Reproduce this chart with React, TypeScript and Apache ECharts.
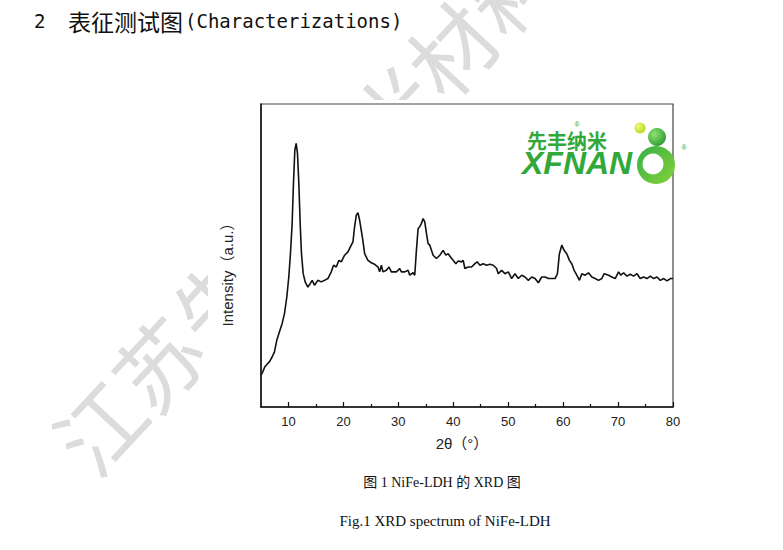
import React, { useEffect, useRef } from "react";
import * as echarts from "echarts";

// 2θ (degrees) and intensity (a.u., 0–100 scale)
const twoTheta = [
  5.0, 5.32, 5.68, 6.11, 6.53, 7.02, 7.45, 7.87, 8.36, 8.84, 9.27, 9.7, 10.06, 10.36, 10.67, 10.91, 11.16, 11.4,
  11.64, 11.89, 12.13, 12.37, 12.68, 13.04, 13.53, 13.95, 14.32, 14.74, 15.35, 15.96, 16.57, 17.18, 17.78, 18.21,
  18.7, 19.18, 19.61, 20.22, 20.83, 21.43, 21.74, 22.04, 22.35, 22.65, 22.95, 23.44, 23.87, 24.47, 25.08, 25.69,
  26.3, 26.6, 26.91, 27.21, 27.82, 28.31, 28.73, 29.64, 30.25, 30.56, 31.17, 31.77, 32.08, 32.69, 32.99, 33.29,
  33.6, 33.9, 34.21, 34.51, 34.81, 35.12, 35.42, 35.73, 36.33, 36.94, 37.55, 38.16, 38.65, 39.07, 39.5, 39.98,
  40.47, 40.9, 41.5, 41.81, 42.11, 42.72, 43.33, 43.94, 44.36, 44.85, 45.46, 46.07, 46.67, 47.28, 47.89, 48.19,
  48.8, 49.41, 50.02, 50.63, 51.24, 51.84, 52.45, 53.06, 53.67, 54.28, 54.89, 55.49, 56.1, 56.71, 57.32, 57.93,
  58.53, 58.96, 59.32, 59.75, 60.18, 60.66, 61.15, 61.57, 62.0, 62.49, 62.97, 63.4, 64.01, 64.61, 65.22, 65.83,
  66.44, 67.05, 67.47, 68.26, 68.87, 69.48, 70.09, 70.51, 71.0, 71.61, 72.22, 72.83, 73.43, 74.04, 74.65, 75.26,
  75.87, 76.48, 77.09, 77.69, 78.3, 78.91, 79.52, 80.0,
];
const intensity = [
  10.5, 11.6, 13.2, 14.1, 14.9, 16.5, 18.2, 22.0, 24.8, 27.5, 30.8, 36.3, 42.9, 50.6, 60.6, 73.8, 84.8, 87.0,
  83.7, 73.8, 60.6, 50.6, 44.0, 41.3, 39.6, 40.7, 41.8, 40.2, 41.8, 41.3, 41.8, 42.4, 44.6, 46.8,
  46.2, 48.4, 47.9, 50.1, 51.2, 53.4, 54.5, 59.5, 63.3, 64.1, 61.7, 56.2, 50.6, 48.4, 47.6, 47.1,
  46.2, 44.6, 46.8, 44.6, 45.1, 46.2, 44.6, 44.6, 45.7, 44.6, 44.6, 45.1, 43.5, 44.3, 43.5, 51.7,
  58.9, 59.5, 60.6, 62.2, 61.1, 57.3, 53.9, 53.4, 50.1, 49.0, 50.1, 51.7, 50.1, 50.6, 49.5, 48.4,
  47.3, 48.2, 47.9, 48.4, 45.7, 46.2, 46.2, 47.3, 47.9, 46.8, 47.3, 46.8, 47.1, 46.8, 45.7, 44.0,
  45.1, 44.0, 44.6, 42.4, 44.0, 42.4, 43.5, 42.9, 41.8, 42.9, 42.4, 41.0, 42.9, 42.9, 42.4, 42.4,
  42.4, 44.0, 50.6, 53.4, 51.7, 50.6, 48.4, 47.3, 45.1, 43.5, 41.8, 44.0, 43.5, 44.3, 42.9, 42.4,
  41.8, 42.4, 44.0, 43.5, 42.9, 42.4, 44.6, 43.5, 44.3, 43.2, 43.8, 43.2, 44.0, 42.4, 42.9, 42.4,
  43.2, 42.4, 42.9, 41.8, 42.4, 41.6, 42.4, 42.4,
];
const majorTicks = [10, 20, 30, 40, 50, 60, 70, 80];
const minorTicks = [15, 25, 35, 45, 55, 65, 75];

const titleNum = "2";
const titleCn = "表征测试图";
const titleEn = "(Characterizations)";
const xName = "2θ（°）";
const yName = "Intensity（a.u.）";
const captionCn = "图 1 NiFe-LDH 的 XRD 图";
const captionEn = "Fig.1 XRD spectrum of NiFe-LDH";
const watermark = "江苏先丰纳米材料";

export default function App() {
  const ref = useRef<HTMLDivElement>(null);
  useEffect(() => {
    if (!ref.current) return;
    const chart = echarts.init(ref.current, null, { renderer: "svg" });
    const green = "#33a83a";
    const wmAngle = (47 * Math.PI) / 180;
    chart.setOption({
      animation: false,
      backgroundColor: "#ffffff",
      grid: {
        left: 261,
        top: 104,
        width: 412,
        height: 303,
        show: true,
        borderColor: "#444",
        borderWidth: 1.2,
        backgroundColor: "transparent",
      },
      xAxis: [
        {
          type: "value",
          position: "bottom",
          min: 5,
          max: 80,
          axisLine: { show: true, onZero: false, lineStyle: { color: "#111", width: 1.5 } },
          axisTick: { show: true, inside: true, length: 5, customValues: majorTicks, lineStyle: { color: "#111", width: 1.2 } },
          axisLabel: {
            show: true,
            customValues: majorTicks,
            color: "#222",
            fontSize: 13,
            margin: 8,
            fontFamily: "Liberation Sans, Arial, sans-serif",
          },
          splitLine: { show: false },
        },
        {
          type: "value",
          position: "bottom",
          min: 5,
          max: 80,
          axisLine: { show: false },
          axisTick: { show: true, inside: true, length: 3, customValues: minorTicks, lineStyle: { color: "#111", width: 1.2 } },
          axisLabel: { show: false },
          splitLine: { show: false },
        },
      ],
      yAxis: {
        type: "value",
        min: 0,
        max: 100,
        axisLine: { show: true, onZero: false, lineStyle: { color: "#111", width: 1.5 } },
        axisTick: { show: false },
        axisLabel: { show: false },
        splitLine: { show: false },
      },
      series: [
        {
          type: "line",
          xAxisIndex: 0,
          data: twoTheta.map((t, i) => [t, intensity[i]]),
          showSymbol: false,
          symbol: "none",
          lineStyle: { color: "#111", width: 1.6 },
          z: 5,
        },
      ],
      graphic: [
        {
          type: "text",
          z: -10,
          x: 68,
          y: 456,
          rotation: wmAngle,
          style: {
            text: watermark,
            fontSize: 86,
            fontFamily: "Noto Sans CJK SC",
            fill: "#dcdcdc",
            textAlign: "left",
            textVerticalAlign: "middle",
          },
        },
        {
          type: "rect",
          z: -5,
          shape: { x: 208, y: 100, width: 490, height: 353 },
          style: { fill: "#ffffff" },
        },
        {
          type: "text",
          x: 34,
          y: 21,
          style: { text: titleNum, fontSize: 19, fontFamily: "DejaVu Sans Mono", fill: "#111", textVerticalAlign: "middle" },
        },
        {
          type: "text",
          x: 68,
          y: 21,
          style: { text: titleCn, fontSize: 23, fontFamily: "Noto Sans CJK SC", fill: "#111", textVerticalAlign: "middle" },
        },
        {
          type: "text",
          x: 185,
          y: 21,
          style: { text: titleEn, fontSize: 19, fontFamily: "DejaVu Sans Mono", fill: "#111", textVerticalAlign: "middle" },
        },
        {
          type: "text",
          x: 462,
          y: 443,
          style: {
            text: xName,
            fontSize: 15,
            fontFamily: "Liberation Sans, Noto Sans CJK SC",
            fill: "#222",
            textAlign: "center",
            textVerticalAlign: "middle",
          },
        },
        {
          type: "text",
          x: 227,
          y: 271,
          rotation: Math.PI / 2,
          style: {
            text: yName,
            fontSize: 15,
            fontFamily: "Liberation Sans, Noto Sans CJK SC",
            fill: "#222",
            textAlign: "center",
            textVerticalAlign: "middle",
          },
        },
        {
          type: "text",
          x: 442,
          y: 482,
          style: {
            text: captionCn,
            fontSize: 14,
            fontFamily: "Liberation Serif, Noto Sans CJK SC",
            fill: "#111",
            textAlign: "center",
            textVerticalAlign: "middle",
          },
        },
        {
          type: "text",
          x: 445,
          y: 521,
          style: {
            text: captionEn,
            fontSize: 15,
            fontFamily: "Liberation Serif, Times New Roman, serif",
            fill: "#111",
            textAlign: "center",
            textVerticalAlign: "middle",
          },
        },
        // logo
        {
          type: "text",
          z: 10,
          x: 527,
          y: 140,
          style: { text: "先丰纳米", fontSize: 20, fontWeight: "bold", fontFamily: "Noto Sans CJK SC", fill: green, textVerticalAlign: "middle" },
        },
        {
          type: "text",
          z: 10,
          x: 577,
          y: 124,
          style: { text: "®", fontSize: 7, fontFamily: "Liberation Sans", fill: green, textAlign: "center", textVerticalAlign: "middle" },
        },
        {
          type: "text",
          z: 10,
          x: 522,
          y: 163,
          style: {
            text: "XFNAN",
            fontSize: 32,
            fontWeight: "bold",
            fontStyle: "italic",
            fontFamily: "Liberation Sans, Arial",
            fill: green,
            textVerticalAlign: "middle",
          },
        },
        {
          type: "circle",
          z: 10,
          shape: { cx: 656, cy: 165, r: 19 },
          style: {
            fill: new echarts.graphic.LinearGradient(0, 0, 1, 1, [
              { offset: 0, color: "#35b045" },
              { offset: 1, color: "#86d23a" },
            ]),
          },
        },
        {
          type: "circle",
          z: 11,
          shape: { cx: 653, cy: 164, r: 10.5 },
          style: { fill: "#ffffff" },
        },
        {
          type: "circle",
          z: 10,
          shape: { cx: 640, cy: 128, r: 5.5 },
          style: {
            fill: new echarts.graphic.RadialGradient(0.35, 0.35, 0.7, [
              { offset: 0, color: "#f4f77a" },
              { offset: 1, color: "#b6d81e" },
            ]),
          },
        },
        {
          type: "circle",
          z: 10,
          shape: { cx: 657, cy: 137, r: 9 },
          style: {
            fill: new echarts.graphic.RadialGradient(0.35, 0.35, 0.7, [
              { offset: 0, color: "#8fe070" },
              { offset: 1, color: "#2f9e35" },
            ]),
          },
        },
        {
          type: "text",
          z: 10,
          x: 684,
          y: 147,
          style: { text: "®", fontSize: 7, fontFamily: "Liberation Sans", fill: green, textAlign: "center", textVerticalAlign: "middle" },
        },
      ],
    });
    return () => chart.dispose();
  }, []);
  return (
    <div
      ref={ref}
      style={{ position: "fixed", left: 0, top: 0, width: 783, height: 550 }}
    />
  );
}
